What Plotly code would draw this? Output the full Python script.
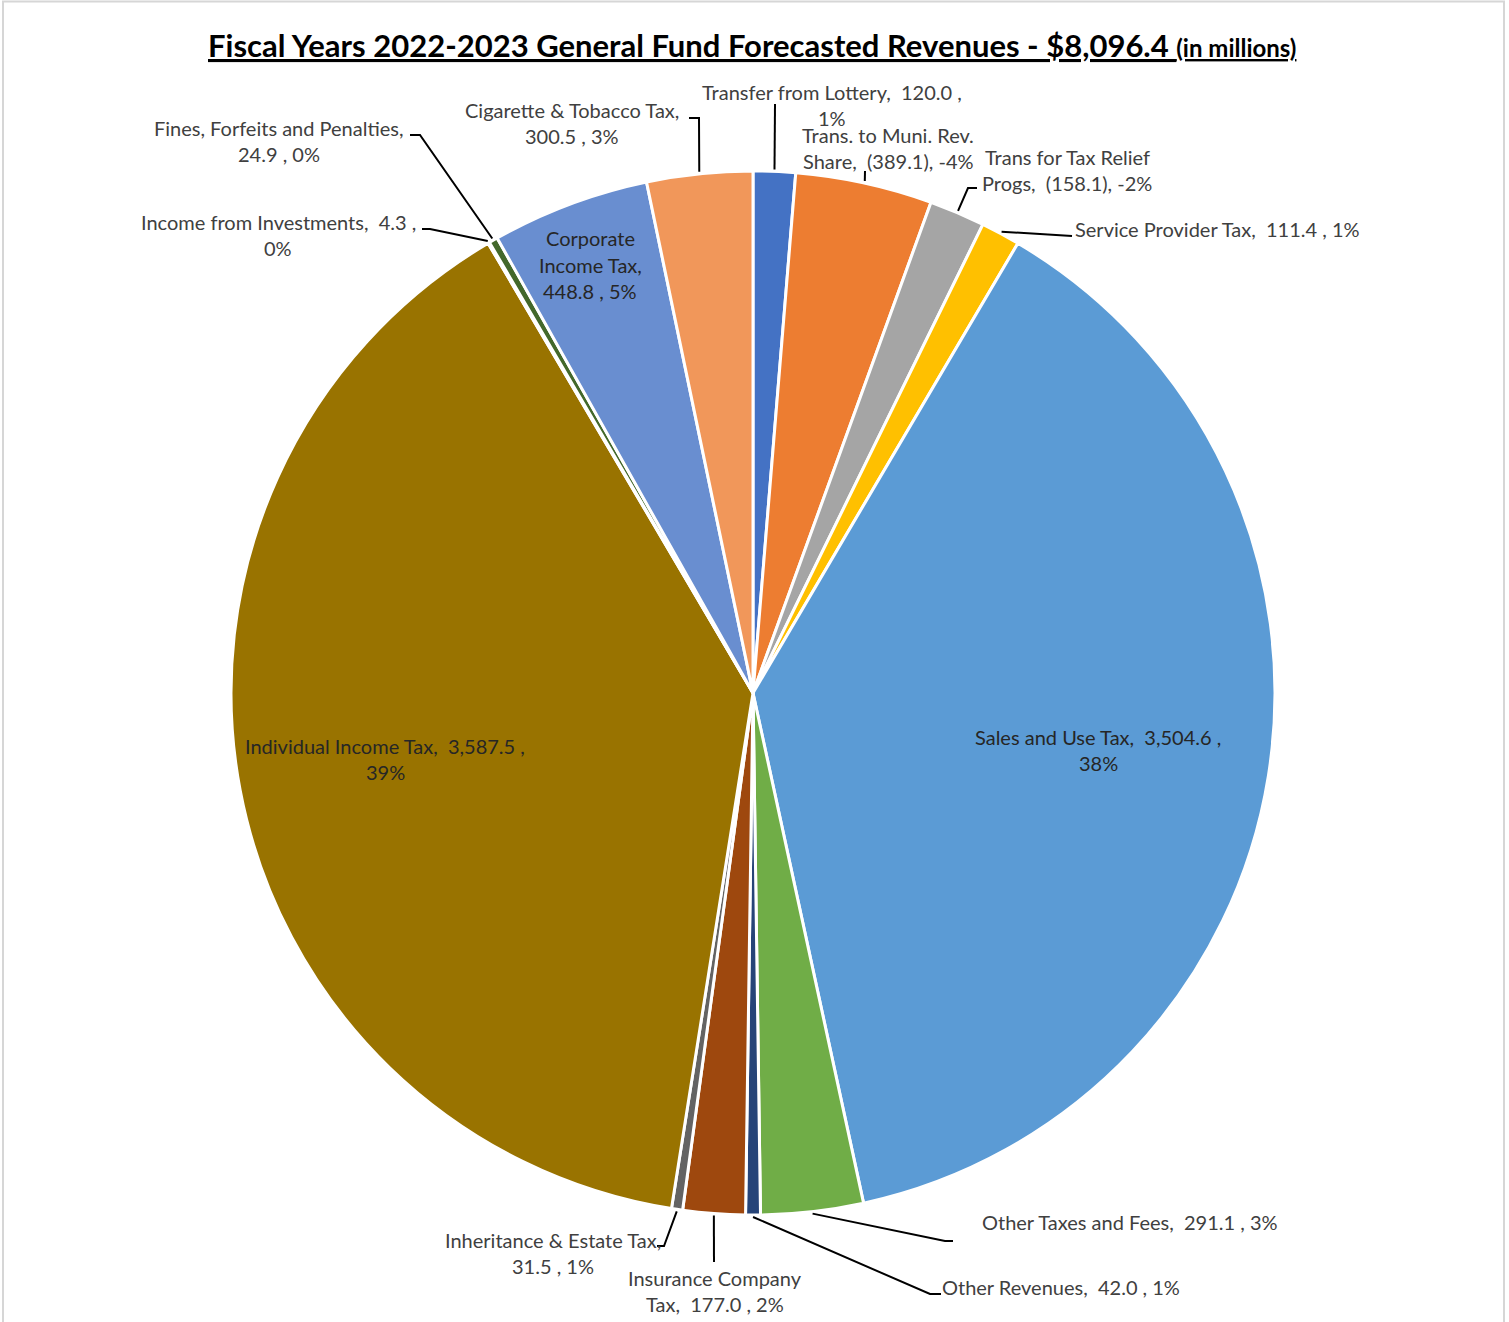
import numpy as np
import plotly.graph_objects as go

# ---- data (millions of dollars; transfers out are negative) ----
categories = [
    "Transfer from Lottery", "Trans. to Muni. Rev. Share", "Trans for Tax Relief Progs",
    "Service Provider Tax", "Sales and Use Tax", "Other Taxes and Fees", "Other Revenues",
    "Insurance Company Tax", "Inheritance & Estate Tax", "Individual Income Tax",
    "Income from Investments", "Fines, Forfeits and Penalties", "Corporate Income Tax",
    "Cigarette & Tobacco Tax",
]
values = [120.0, -389.1, -158.1, 111.4, 3504.6, 291.1, 42.0,
          177.0, 31.5, 3587.5, 4.3, 24.9, 448.8, 300.5]
pct_labels = ["1%", "-4%", "-2%", "1%", "38%", "3%", "1%",
              "2%", "1%", "39%", "0%", "0%", "5%", "3%"]
total_revenue = 8096.4

colors = ["#4472C4", "#ED7D31", "#A5A5A5", "#FFC000", "#5B9BD5", "#70AD47", "#264478",
          "#9E480E", "#636363", "#997300", "#255E91", "#43682B", "#698ED0", "#F1975A"]

# ---- figure geometry (pixels) ----
W, H = 1509, 1322
CX, CY, R = 753, 693, 522


def px(x):
    return x / W


def py(y):
    return 1 - y / H


def fmt_val(v):
    s = f"{abs(v):,.1f}"
    return f"({s})," if v < 0 else f"{s} ,"


# label lines ({v} = value text, {p} = percent), block centre, leader route, inside flag
label_layout = [
    (["Transfer from Lottery,  {v}", "{p}"], (832, 105), [(775, 104)]),
    (["Trans. to Muni. Rev.", "Share,  {v} {p}"], (888, 148), [(865, 171)]),
    (["Trans for Tax Relief", "Progs,  {v} {p}"], (1067, 170), [(968, 188), (977, 188)]),
    (["Service Provider Tax,  {v} {p}"], (1217, 229), [(1072, 236)]),
    (["Sales and Use Tax,  {v}", "{p}"], (1098, 750), None),
    (["Other Taxes and Fees,  {v} {p}"], (1130, 1222), [(945, 1241), (953, 1241)]),
    (["Other Revenues,  {v} {p}"], (1061, 1287), [(930, 1294), (941, 1294)]),
    (["Insurance Company", "Tax,  {v} {p}"], (715, 1291), [(714, 1262)]),
    (["Inheritance & Estate Tax,", "{v} {p}"], (553, 1253), [(664, 1246), (657, 1246)]),
    (["Individual Income Tax,  {v}", "{p}"], (385, 759), None),
    (["Income from Investments,  {v}", "{p}"], (278, 235), [(430, 229), (422, 229)]),
    (["Fines, Forfeits and Penalties,", "{v} {p}"], (279, 141), [(420, 135), (410, 135)]),
    (["Corporate", "Income Tax,", "{v} {p}"], (590, 265), None),
    (["Cigarette & Tobacco Tax,", "{v} {p}"], (572, 123), [(699, 118), (689, 118)]),
]

abs_vals = np.abs(np.array(values))
fig = go.Figure()
fig.add_trace(go.Pie(
    values=abs_vals,
    labels=categories,
    sort=False,
    direction="clockwise",
    rotation=0,
    textinfo="none",
    showlegend=False,
    marker=dict(colors=colors, line=dict(color="white", width=3)),
    domain=dict(x=[px(CX - R), px(CX + R)], y=[py(CY + R), py(CY - R)]),
))

# slice mid-angles (degrees clockwise from 12 o'clock)
ends = np.cumsum(abs_vals) / abs_vals.sum() * 360
starts = ends - abs_vals / abs_vals.sum() * 360
mids = np.radians((starts + ends) / 2)

annotations = []
shapes = []
LINE_H = 26.5
FAMILY = "Lato, Carlito, sans-serif"
for i, (lines, (bx, by), route) in enumerate(label_layout):
    n = len(lines)
    color = "#404040" if route else "#262626"
    for j, ln in enumerate(lines):
        text = ln.replace("{v}", fmt_val(values[i])).replace("{p}", pct_labels[i])
        annotations.append(dict(
            x=px(bx), y=py(by + (j - (n - 1) / 2) * LINE_H), xref="paper", yref="paper",
            text=text, showarrow=False, xanchor="center", yanchor="middle",
            font=dict(family=FAMILY, size=20, color=color),
        ))
    if route:
        ex = CX + (R + 2) * np.sin(mids[i])
        ey = CY - (R + 2) * np.cos(mids[i])
        pts = [(ex, ey)] + route
        path = "M " + " L ".join(f"{px(x):.5f},{py(y):.5f}" for x, y in pts)
        shapes.append(dict(type="path", path=path, xref="paper", yref="paper",
                           line=dict(color="#000000", width=2)))

# chart frame
shapes.append(dict(type="rect", xref="paper", yref="paper",
                   x0=px(3), x1=px(1504), y0=py(1340), y1=py(1.5),
                   line=dict(color="#d6d6d6", width=2)))

title = (f"<b>Fiscal Years 2022-2023 General Fund Forecasted Revenues - ${total_revenue:,.1f} "
         "<span style='font-size:24px'>(in millions)</span></b>")
annotations.append(dict(
    x=px(752), y=py(45), xref="paper", yref="paper", text=title, showarrow=False,
    xanchor="center", yanchor="middle",
    font=dict(family=FAMILY, size=31, color="#000000", lineposition="under"),
))

fig.update_layout(
    width=W, height=H,
    margin=dict(l=0, r=0, t=0, b=0),
    paper_bgcolor="white",
    plot_bgcolor="white",
    annotations=annotations,
    shapes=shapes,
)

fig.write_html("out.html")
